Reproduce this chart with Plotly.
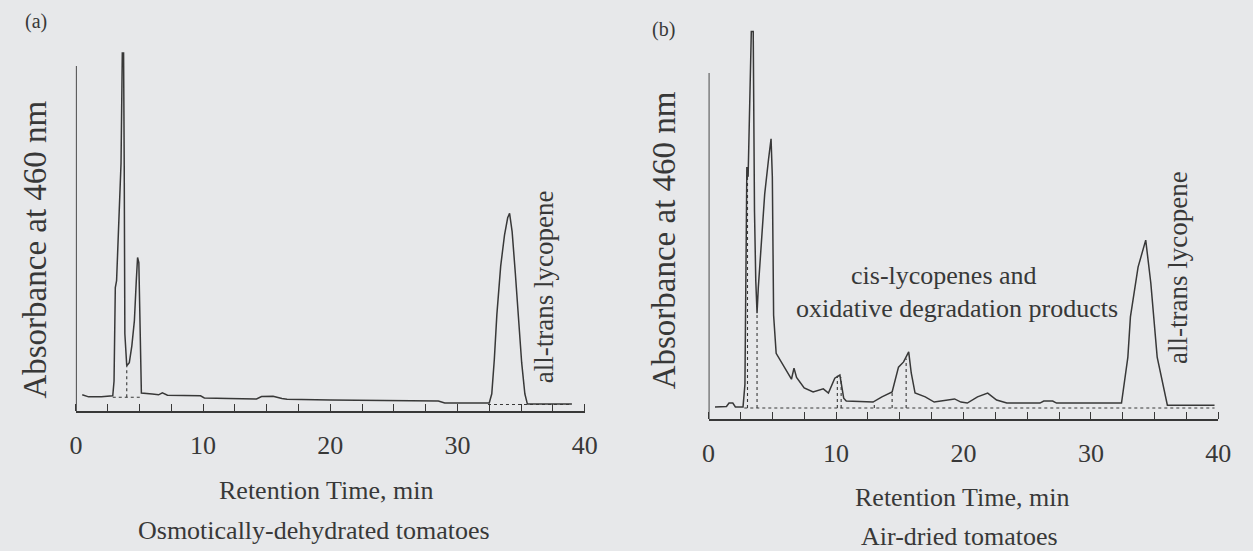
import plotly.graph_objects as go

# ---------------- data (retention time in min, absorbance in relative units) ----------------
time_a = [0.5, 1.0, 2.0, 2.9, 3.0, 3.1, 3.2, 3.4, 3.55, 3.65, 3.75, 3.8, 3.85, 4.0, 4.2, 4.4, 4.6,
          4.75, 4.85, 4.95, 5.05, 5.15, 6.0, 6.5, 6.8, 7.2, 9.8, 10.1, 12.0, 14.2, 14.6, 15.5, 16.2,
          16.6, 20.0, 25.0, 28.5, 29.0, 32.5, 32.7, 32.9, 33.1, 33.4, 33.7, 33.95, 34.1, 34.3,
          34.55, 34.8, 35.05, 35.3, 35.5, 39.0]
abs_a = [4.7, 4.1, 4.1, 4.4, 8.7, 35.8, 37.8, 55.0, 71.8, 103.8, 103.8, 71.8, 22.4, 13.1, 14.0, 18.9, 26.2,
         37.8, 44.5, 43.0, 17.4, 5.2, 4.9, 4.7, 5.3, 4.6, 4.4, 3.8, 3.6, 3.5, 4.2, 4.3, 3.6,
         3.4, 3.2, 2.9, 2.9, 2.3, 2.3, 5.0, 15.0, 28.0, 42.0, 51.0, 56.0, 57.3, 52.0,
         40.0, 27.0, 14.0, 5.0, 2.0, 2.0]

time_b = [0.5, 1.4, 1.6, 1.9, 2.1, 2.7, 2.85, 3.0, 3.1, 3.2, 3.35, 3.5, 3.6, 3.7, 3.8, 3.9, 4.1, 4.4,
          4.7, 4.9, 5.0, 5.1, 5.3, 5.7, 6.2, 6.5, 6.7, 6.9, 7.5, 8.2, 9.0, 9.4, 9.9, 10.3, 10.6,
          10.8, 12.9, 13.6, 14.4, 14.9, 15.3, 15.7, 15.9, 16.2, 17.0, 17.7, 19.3, 19.8, 20.3,
          21.1, 21.9, 22.6, 23.4, 26.0, 26.3, 27.0, 27.3, 32.4, 32.9, 33.1, 33.7, 34.3, 34.7,
          35.2, 36.0, 39.7]
abs_b = [3.5, 3.6, 4.6, 4.6, 3.5, 3.5, 10.0, 72.8, 70.0, 85.0, 112.0, 112.0, 60.0, 40.0, 30.6, 38.0,
         50.0, 65.0, 75.0, 81.0, 70.0, 30.0, 19.0, 16.5, 13.0, 11.5, 14.7, 12.0, 9.0, 7.8, 8.7,
         7.5, 11.8, 12.7, 6.0, 5.2, 4.9, 6.4, 7.8, 15.0, 16.5, 19.4, 13.3, 7.5, 6.4, 4.9, 5.8,
         4.9, 4.6, 6.4, 7.5, 5.5, 4.6, 4.6, 5.2, 5.2, 4.6, 4.6, 17.9, 29.5, 43.9, 51.7, 39.3,
         17.9, 4.0, 4.0]

# dotted integration baselines and drop lines
base_a_time = [2.9, 5.2]
base_a_abs = [4.0, 4.0]
base_a2_time = [32.4, 39.0]
base_a2_abs = [1.9, 1.9]
drop_a_time = [4.0]
drop_a_top = [13.1]
drop_a_bottom = [4.0]

base_b_time = [2.8, 39.7]
base_b_abs = [3.2, 3.2]
drop_b_time = [3.05, 3.8, 10.1, 10.4, 13.0, 14.4, 15.5]
drop_b_top = [72.0, 30.6, 12.5, 12.0, 4.9, 7.8, 17.5]

x_tick_vals = [0, 10, 20, 30, 40]
x_tick_text = ["0", "10", "20", "30", "40"]

TITLE_X = "Retention Time, min"
TITLE_Y = "Absorbance at 460 nm"
SUB_A = "Osmotically-dehydrated tomatoes"
SUB_B = "Air-dried tomatoes"
PEAK_LABEL = "all-trans lycopene"
CIS_LINE1 = "cis-lycopenes and"
CIS_LINE2 = "oxidative degradation products"

# ---------------- figure ----------------
W, H = 1253, 551
INK = "#383838"
BG = "#e7e8ea"
FONT = "Liberation Serif"


def px_x(p):
    return p / W


def px_y(p):
    return 1 - p / H


fig = go.Figure()

line_style = dict(color=INK, width=1.5)
dot_style = dict(color=INK, width=1.1, dash="dot")

# panel a
fig.add_trace(go.Scatter(x=time_a, y=abs_a, mode="lines", line=line_style, xaxis="x", yaxis="y",
                         showlegend=False, hoverinfo="skip"))
fig.add_trace(go.Scatter(x=base_a_time, y=base_a_abs, mode="lines", line=dot_style, xaxis="x", yaxis="y",
                         showlegend=False, hoverinfo="skip"))
fig.add_trace(go.Scatter(x=base_a2_time, y=base_a2_abs, mode="lines", line=dot_style, xaxis="x", yaxis="y",
                         showlegend=False, hoverinfo="skip"))
for t, top, bot in zip(drop_a_time, drop_a_top, drop_a_bottom):
    fig.add_trace(go.Scatter(x=[t, t], y=[bot, top], mode="lines", line=dot_style, xaxis="x", yaxis="y",
                             showlegend=False, hoverinfo="skip"))

# panel b
fig.add_trace(go.Scatter(x=time_b, y=abs_b, mode="lines", line=line_style, xaxis="x2", yaxis="y2",
                         showlegend=False, hoverinfo="skip"))
fig.add_trace(go.Scatter(x=base_b_time, y=base_b_abs, mode="lines", line=dot_style, xaxis="x2", yaxis="y2",
                         showlegend=False, hoverinfo="skip"))
for t, top in zip(drop_b_time, drop_b_top):
    fig.add_trace(go.Scatter(x=[t, t], y=[base_b_abs[0], top], mode="lines", line=dot_style,
                             xaxis="x2", yaxis="y2", showlegend=False, hoverinfo="skip"))

# axes geometry (pixels)
A_X0, A_X1, A_AX, A_TOP = 70, 587, 411, 40
B_X0, B_X1, B_AX, B_TOP = 713, 1231, 419, 25
A_SCALE = 3.45  # px per unit
B_SCALE = 3.46

xaxis_common = dict(range=[0, 40], showgrid=False, zeroline=False, showline=True, linecolor=INK,
                    linewidth=1.6, ticks="", tickvals=x_tick_vals, ticktext=x_tick_text,
                    tickfont=dict(family=FONT, size=26, color=INK), ticklabelstandoff=10,
                    minor=dict(dtick=2.5, tick0=0, ticks="inside", ticklen=7, tickcolor=INK, tickwidth=1.3),
                    fixedrange=True)
yaxis_common = dict(showgrid=False, zeroline=False, showline=False, showticklabels=False, ticks="",
                    fixedrange=True)

fig.update_layout(
    width=W, height=H,
    margin=dict(l=0, r=0, t=0, b=0),
    paper_bgcolor=BG, plot_bgcolor=BG,
    xaxis=dict(domain=[px_x(A_X0), px_x(A_X1)], anchor="y", **xaxis_common),
    yaxis=dict(domain=[px_y(A_AX), px_y(A_TOP)], range=[0, (A_AX - A_TOP) / A_SCALE], anchor="x",
               **yaxis_common),
    xaxis2=dict(domain=[px_x(B_X0), px_x(B_X1)], anchor="y2", **xaxis_common),
    yaxis2=dict(domain=[px_y(B_AX), px_y(B_TOP)], range=[0, (B_AX - B_TOP) / B_SCALE], anchor="x2",
                **yaxis_common),
    showlegend=False,
)

# vertical axis lines (0 to 100 units)
fig.add_shape(type="line", xref="x", yref="y", x0=0, x1=0, y0=0, y1=100, line=dict(color=INK, width=1.8))
fig.add_shape(type="line", xref="x2", yref="y2", x0=0, x1=0, y0=0, y1=100, line=dict(color=INK, width=1.8))

txt = dict(family=FONT, color=INK)


def ann(text, x, y, size, angle=0, xanchor="center"):
    fig.add_annotation(text=text, x=px_x(x), y=px_y(y), xref="paper", yref="paper", showarrow=False,
                       font=dict(size=size, **txt), textangle=angle, xanchor=xanchor, yanchor="middle")


ann("(a)", 29, 22, 20)
ann("(b)", 667, 30, 20)
ann(TITLE_Y, 28, 250, 33, angle=-90)
ann(TITLE_Y, 668, 240, 33, angle=-90)
ann(TITLE_X, 325, 490, 26)
ann(TITLE_X, 971, 497, 26)
ann(SUB_A, 312, 530, 26)
ann(SUB_B, 968, 536, 26)
ann(PEAK_LABEL, 546, 287, 27, angle=-90)
ann(PEAK_LABEL, 1190, 268, 27, angle=-90)
ann(CIS_LINE1, 952, 275, 26)
ann(CIS_LINE2, 965, 308, 26)

fig.write_html("out.html", config={"displayModeBar": False},
               post_script="document.body.style.margin='0';document.body.style.overflow='hidden';")
